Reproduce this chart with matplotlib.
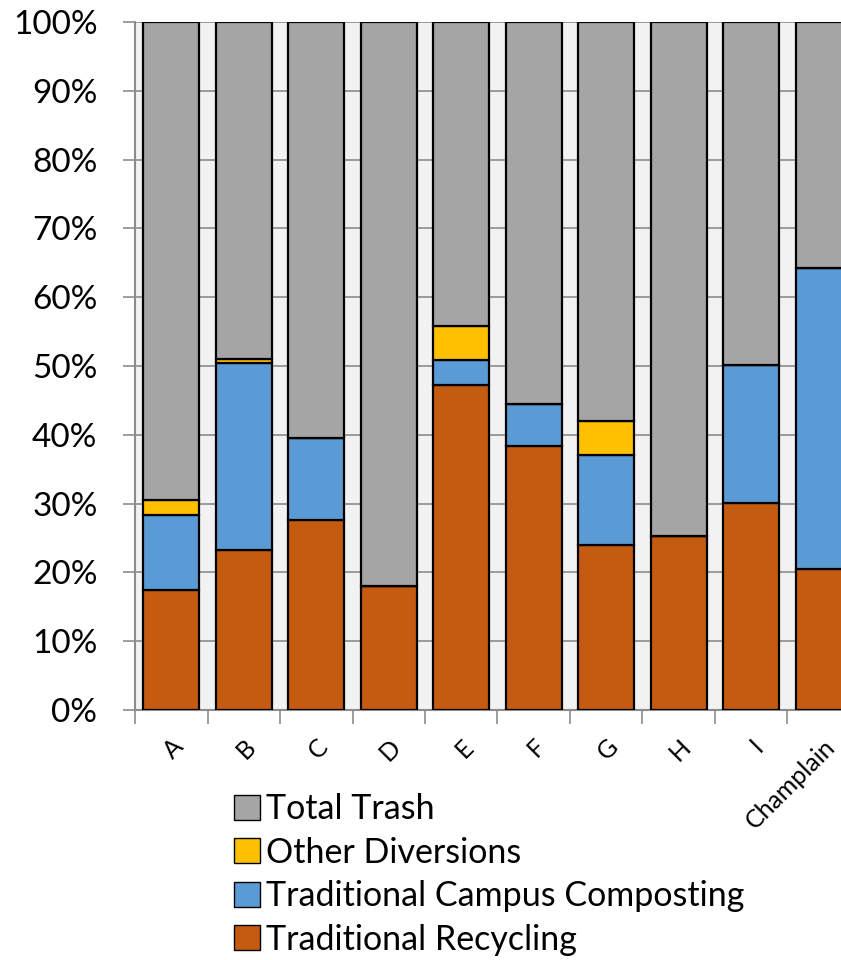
import matplotlib.pyplot as plt
from matplotlib.ticker import PercentFormatter
from matplotlib.patches import Patch

# Parcela de cada destino de resíduos por unidade (em %)
unidades = ['A', 'B', 'C', 'D', 'E', 'F', 'G', 'H', 'I', 'Champlain']
reciclagem = [17.4, 23.3, 27.6, 18.0, 47.3, 38.4, 24.0, 25.3, 30.1, 20.5]
compostagem = [10.9, 27.2, 11.9, 0.0, 3.5, 6.1, 13.1, 0.0, 20.0, 43.7]
outras = [2.2, 0.5, 0.0, 0.0, 5.0, 0.0, 4.9, 0.0, 0.0, 0.0]

series = [
    ('Traditional Recycling', reciclagem, '#c55a11'),
    ('Traditional Campus Composting', compostagem, '#5b9bd5'),
    ('Other Diversions', outras, '#ffc000'),
]

plt.rcParams['font.family'] = ['Lato', 'DejaVu Sans']

fig = plt.figure(figsize=(8.41, 9.60), dpi=100)
ax = fig.add_axes([135 / 841, 1 - 710 / 960, 725 / 841, 688 / 960])
ax.set_facecolor('#f2f2f2')

x = range(len(unidades))
base = [0.0] * len(unidades)
for nome, valores, cor in series:
    ax.bar(x, valores, bottom=base, width=0.77, color=cor,
           edgecolor='black', linewidth=1.6, zorder=3)
    base = [b + v for b, v in zip(base, valores)]

lixo = [100 - b for b in base]
ax.bar(x, lixo, bottom=base, width=0.77, color='#a5a5a5',
       edgecolor='black', linewidth=1.6, zorder=3)

ax.set_ylim(0, 100)
ax.set_xlim(-0.5, len(unidades) - 0.5)
ax.set_yticks(range(0, 101, 10))
ax.yaxis.set_major_formatter(PercentFormatter(decimals=0))
ax.grid(axis='y', color='#8c8c8c', linewidth=1.2, zorder=0)

for lado in ['top', 'right']:
    ax.spines[lado].set_visible(False)
ax.spines['left'].set_color('#8c8c8c')
ax.spines['left'].set_linewidth(1.5)
ax.spines['bottom'].set_color('#8c8c8c')
ax.spines['bottom'].set_linewidth(1.5)

ax.tick_params(axis='y', length=9, width=1.2, color='#8c8c8c',
               labelsize=24, pad=18)
ax.set_xticks([i - 0.5 for i in x], minor=False)
ax.set_xticklabels([])
ax.tick_params(axis='x', length=10, width=1.2, color='#8c8c8c')
ax.set_xticks(list(x), minor=True)
ax.set_xticklabels(unidades, minor=True, rotation=45, ha='right',
                   va='top', rotation_mode='anchor', fontsize=18)
ax.tick_params(axis='x', which='minor', length=0, pad=18)

handles = [Patch(facecolor='#a5a5a5', edgecolor='black', label='Total Trash')]
handles += [Patch(facecolor=cor, edgecolor='black', label=nome)
            for nome, _, cor in reversed(series)]
fig.legend(handles=handles, loc='upper left',
           bbox_to_anchor=(217 / 841, 1 - 776 / 960), frameon=False,
           fontsize=24.5, handlelength=0.75, handleheight=0.75,
           handletextpad=0.2, labelspacing=0.34, borderpad=0)

fig.savefig('out.png', dpi=100, facecolor='white')
